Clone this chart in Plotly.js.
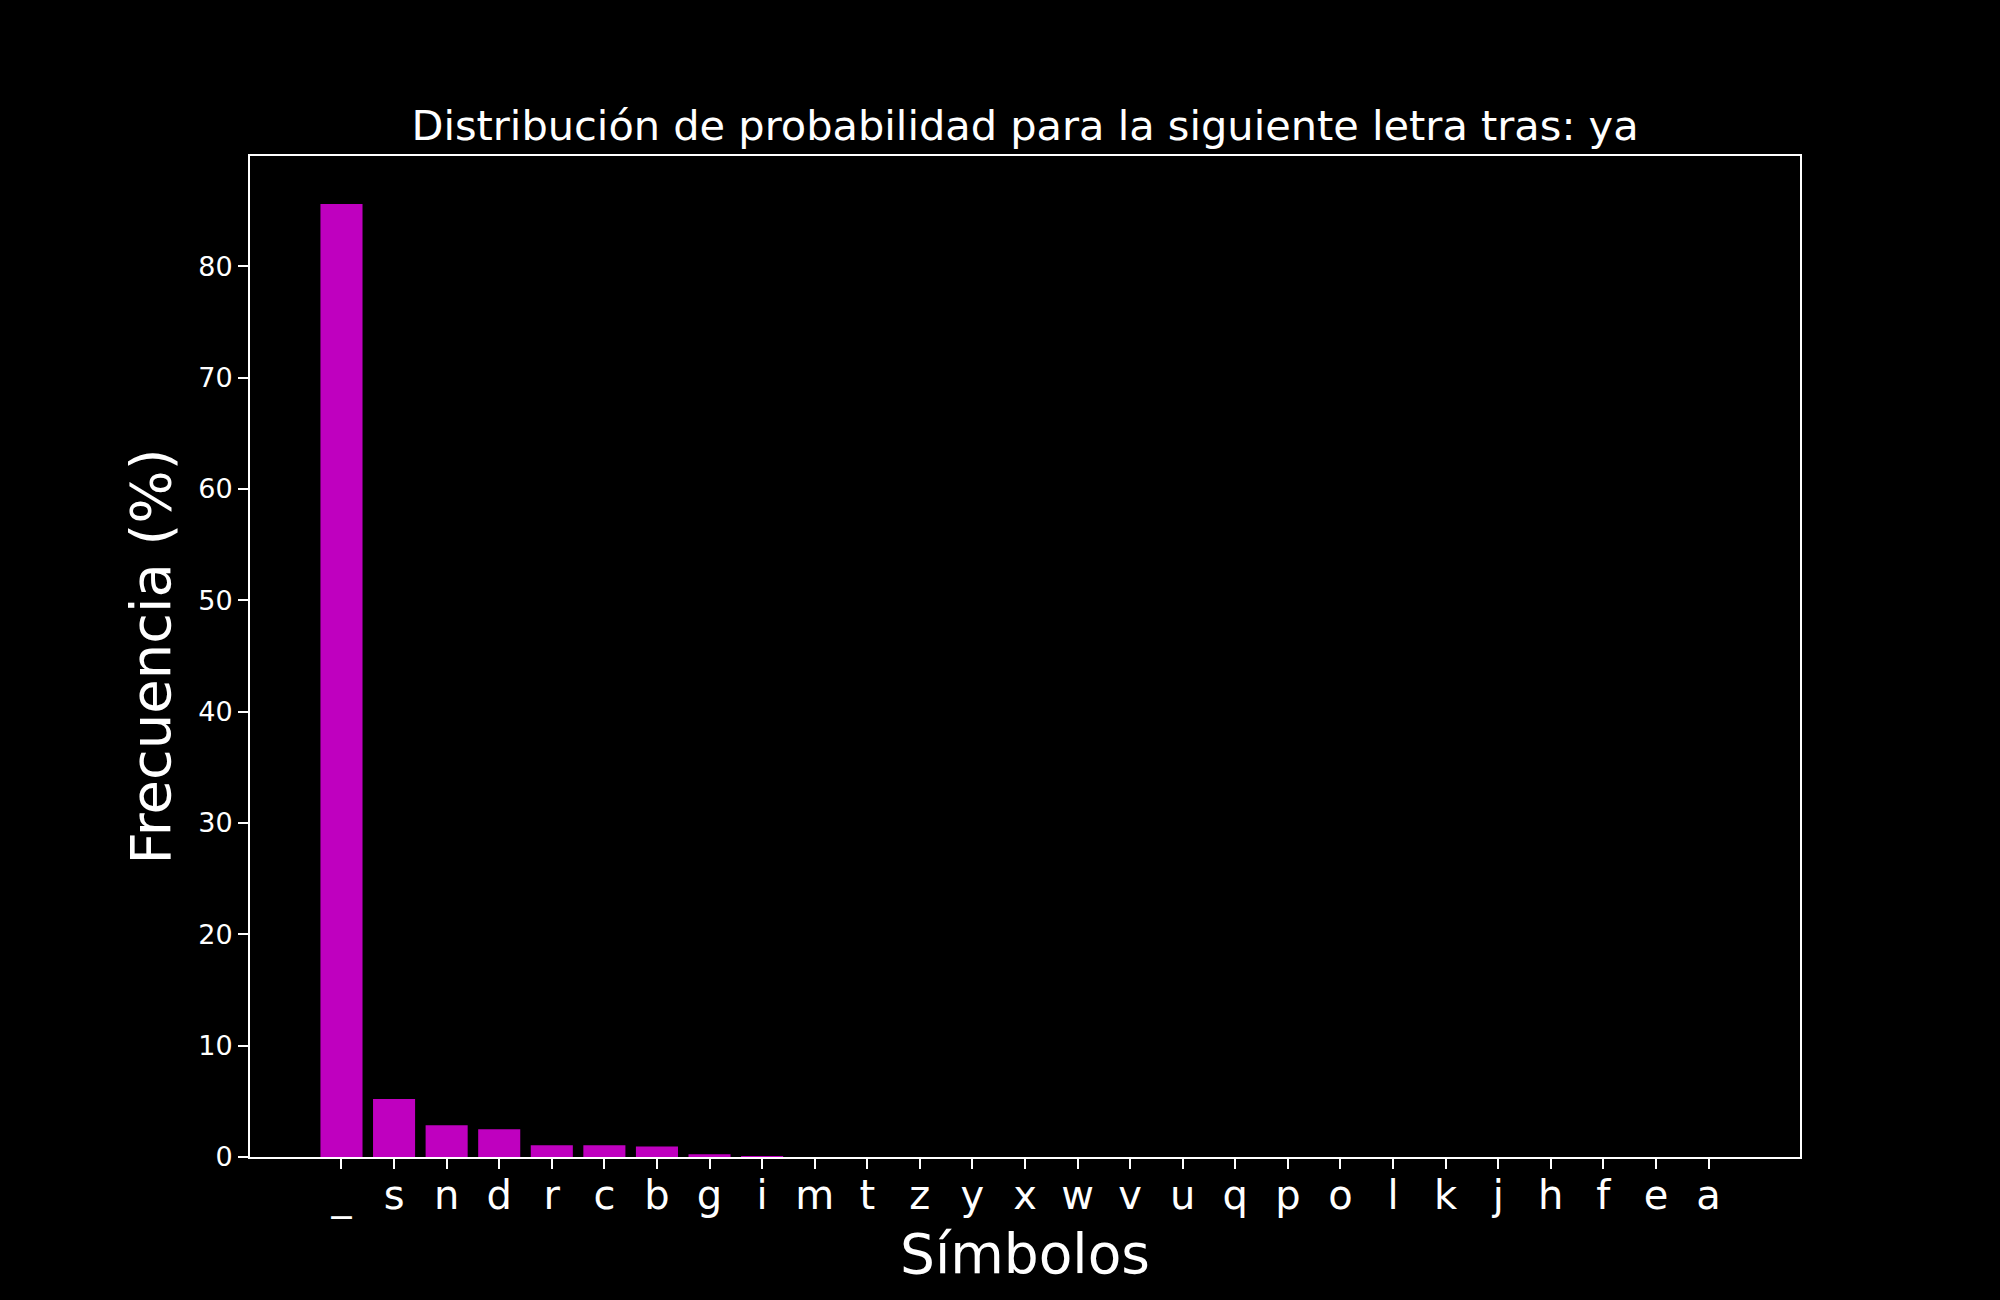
<!DOCTYPE html>
<html>
<head>
<meta charset="utf-8">
<script src="https://cdn.plot.ly/plotly-3.0.1.min.js"></script>
<style>html,body{margin:0;padding:0;background:#000;}#chart{width:2000px;height:1300px;}</style>
</head>
<body>
<div id="chart"></div>
<script>
const symbols = ["_","s","n","d","r","c","b","g","i","m","t","z","y","x","w","v","u","q","p","o","l","k","j","h","f","e","a"];
const frequencies = [85.6,5.2,2.85,2.49,1.05,1.05,0.95,0.25,0.1,0,0,0,0,0,0,0,0,0,0,0,0,0,0,0,0,0,0];
const titleText = "Distribución de probabilidad para la siguiente letra tras: ya";
const xTitle = "Símbolos";
const yTitle = "Frecuencia (%)";
const yTickVals = [0,10,20,30,40,50,60,70,80];

const font = "DejaVu Sans, sans-serif";
const trace = {
  type: "bar",
  x: symbols,
  y: frequencies,
  marker: {color: "#bf00bf", line: {width: 0}},
  hoverinfo: "x+y"
};
const layout = {
  width: 2000, height: 1300,
  paper_bgcolor: "#000", plot_bgcolor: "#000",
  font: {family: font, color: "#fff"},
  margin: {l: 250, r: 200, t: 156, b: 143},
  bargap: 0.2,
  showlegend: false,
  title: {text: titleText, font: {family: font, size: 41.5, color: "#fff"},
          x: 0.5, xref: "paper", xanchor: "center", y: 1 - 125/1300, yref: "container", yanchor: "middle"},
  xaxis: {
    type: "category",
    range: [-1.74, 27.74],
    showgrid: false, zeroline: false,
    showline: true, linecolor: "#fff", linewidth: 2, mirror: true,
    ticks: "outside", ticklen: 10, tickwidth: 2, tickcolor: "#fff",
    ticklabelstandoff: -8,
    tickfont: {family: font, size: 40, color: "#fff"},
    title: {text: xTitle, font: {family: font, size: 55, color: "#fff"}, standoff: 16},
    automargin: false
  },
  yaxis: {
    range: [0, 89.9],
    tickvals: yTickVals,
    showgrid: false, zeroline: false,
    showline: true, linecolor: "#fff", linewidth: 2, mirror: true,
    ticks: "outside", ticklen: 10, tickwidth: 2, tickcolor: "#fff",
    tickfont: {family: font, size: 27, color: "#fff"},
    title: {text: yTitle, font: {family: font, size: 56, color: "#fff"}, standoff: 10},
    automargin: false
  }
};
Plotly.newPlot("chart", [trace], layout, {displayModeBar: false, staticPlot: true});
</script>
</body>
</html>
